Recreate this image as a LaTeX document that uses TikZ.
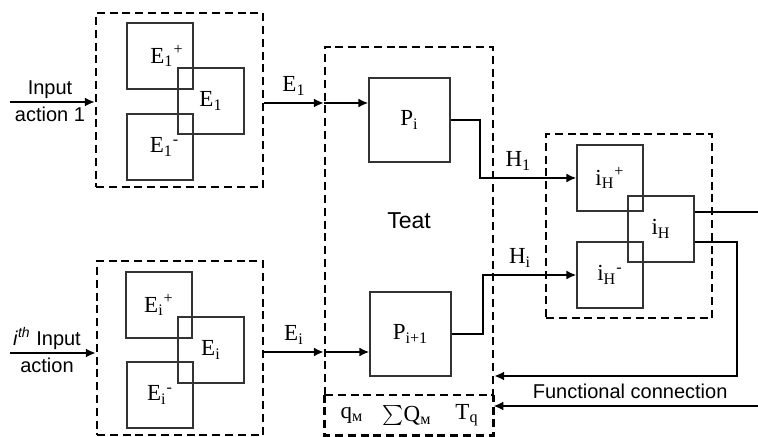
\documentclass[tikz,border=0pt]{standalone}
\usepackage{fontspec}
\setmainfont{Liberation Serif}
\setsansfont{Liberation Sans}
\usepackage{tikz}
\usetikzlibrary{arrows.meta}

\begin{document}
\begin{tikzpicture}[x=0.5pt,y=-0.5pt,
    box/.style={draw=black!80,line width=0.6pt,minimum width=33pt,minimum height=33pt,
                inner sep=0pt,font=\fontsize{11.5}{13}\selectfont},
    proc/.style={box,minimum width=40.5pt,minimum height=42pt},
    dsh/.style={line width=1.15pt,dash pattern=on 4pt off 2.4pt},
    grp/.style={dsh,draw,inner sep=0pt},
    txt/.style={font=\sffamily\fontsize{10}{13.5}\selectfont,align=center},
    sym/.style={font=\fontsize{11.5}{13}\selectfont},
    wire/.style={line width=1.1pt},
    arr/.style={wire,-{Latex[length=5pt,width=4.5pt]}}
  ]
    \useasboundingbox (0,0) rectangle (758,437);
    % input blocks
    \node[grp,minimum width=83.5pt,minimum height=87pt] (g1) at (179.5,100) {};
    \node[box] (e1p) at (160,56) {\hspace{7pt}E\textsubscript{1}\textsuperscript{+}};
    \node[box] (e1) at (211,101) {E\textsubscript{1}};
    \node[box] (e1m) at (160,147) {\hspace{4.5pt}E\textsubscript{1}\textsuperscript{-}};
    \node[grp,minimum width=83pt,minimum height=87pt] (gi) at (180,348) {};
    \node[box] (eip) at (159,305) {E\textsubscript{i}\textsuperscript{+}};
    \node[box] (ei) at (211,350) {E\textsubscript{i}};
    \node[box] (eim) at (160,395) {E\textsubscript{i}\textsuperscript{-}};
    \node[txt] (in1) at (50,101) {Input\\action 1};
    \node[txt] (ini) at (47,350) {\textit{i}\textsuperscript{\textit{th}} Input\\action};
    % teat block with its parameter strip
    \node[grp,minimum width=84pt,minimum height=174pt,
          font=\sffamily\fontsize{11.5}{13}\selectfont] (teat) at (409,221) {Teat};
    \node[minimum width=84pt,minimum height=20pt,inner sep=0pt] (tsub) at (409,415) {};
    \draw[dsh] (tsub.north west) |- (tsub.south east) -- (tsub.north east);
    \node[sym] (qm) at (352,415) {q\textsubscript{м}};
    \node[sym] (sq) at (407,415) {$\sum$Q\textsubscript{м}};
    \node[sym] (tq) at (467,415) {T\textsubscript{q}};
    \node[proc] (pi) at (409.5,120) {P\textsubscript{i}};
    \node[proc] (pn) at (410.5,334) {P\textsubscript{i+1}};
    % output block
    \node[grp,minimum width=83pt,minimum height=92pt] (go) at (629,226) {};
    \node[box] (ihp) at (610,178) {i\textsubscript{H}\textsuperscript{+}};
    \node[box] (ih) at (661,229) {i\textsubscript{H}};
    \node[box] (ihm) at (610,275) {i\textsubscript{H}\textsuperscript{-}};
    \coordinate (s1) at (10,102);
    \coordinate (si) at (10,353);
    \coordinate (a1) at ([yshift=8.5pt]pi.west);
    \coordinate (ai) at ([yshift=-9pt]pn.west);
    \coordinate (out) at (758,212);
    \coordinate (fb) at (737,376);
    \coordinate (s2) at (758,406);
    \draw[arr] (s1) -- (s1 -| g1.west);
    \draw[arr] (si) -- (si -| gi.west);
    \draw[arr] (a1 -| g1.east) -- node[sym,above] {E\textsubscript{1}} (a1 -| teat.west);
    \draw[arr] (a1 -| teat.west) -- (a1);
    \draw[arr] (ai -| gi.east) -- node[sym,above] {E\textsubscript{i}} (ai -| teat.west);
    \draw[arr] (ai -| teat.west) -- (ai);
    \draw[arr] (pi.east) -- ++(29,0) |- node[sym,pos=0.7,above] {H\textsubscript{1}} (ihp.west);
    \draw[arr] (pn.east) -- ++(31,0) |- node[sym,pos=0.7,above] {H\textsubscript{i}} (ihm.west);
    \draw[wire] ([yshift=8.5pt]ih.east) -- (out);
    % feedback into the teat block
    \draw[arr] ([yshift=-6.5pt]ih.east) -| (fb) -- node[txt,below,pos=0.44] {Functional connection} (fb -| teat.east);
    \draw[arr] (s2) -- (s2 -| tsub.east);
  \end{tikzpicture}
\end{document}
